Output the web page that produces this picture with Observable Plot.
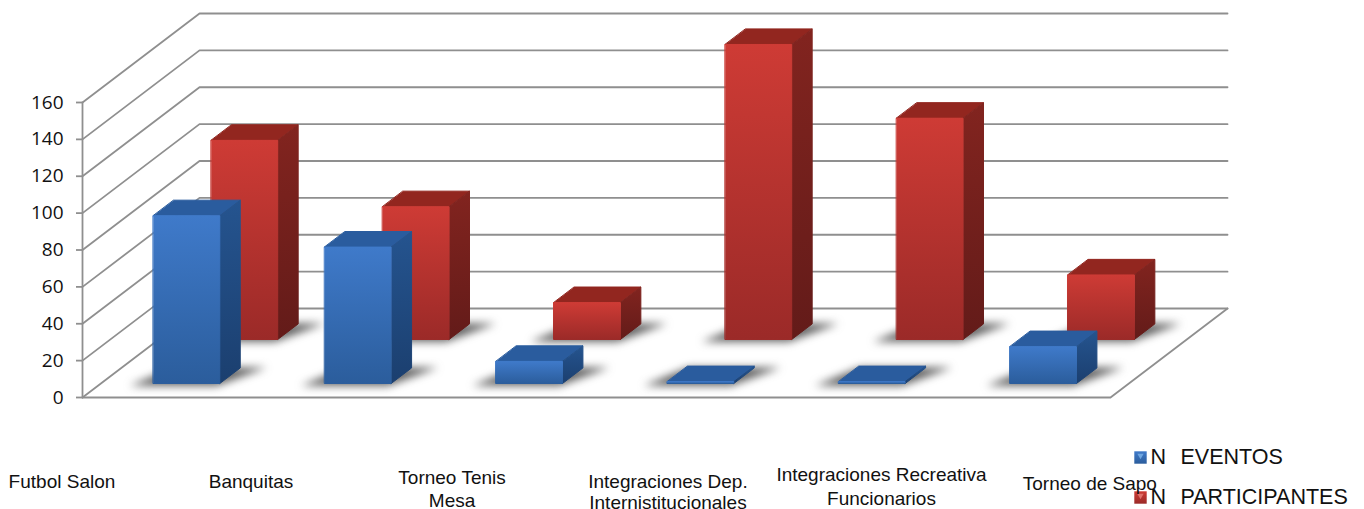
<!DOCTYPE html>
<html>
<head>
<meta charset="utf-8">
<script src="https://cdn.jsdelivr.net/npm/d3@7"></script>
<script src="https://cdn.jsdelivr.net/npm/@observablehq/plot@0.6"></script>
<style>html,body{margin:0;padding:0;background:#fff}svg{display:block}</style>
</head>
<body>
<div id="chart"></div>
<script>
const categories = ["Futbol Salon", "Banquitas", "Torneo Tenis\nMesa", "Integraciones Dep.\nInternistitucionales", "Integraciones Recreativa\nFuncionarios", "Torneo de Sapo"];
const eventos = [91, 74, 12, 1, 1, 20];
const participantes = [108, 72, 20, 160, 120, 35];
const ticks = [0, 20, 40, 60, 80, 100, 120, 140, 160];
const seriesNames = ["EVENTOS", "PARTICIPANTES"];

// layout (oblique projection of the 3-D box, in data units)
const DEPTH_X = 0.683, DEPTH_Y = 48.27, HALF = 0.194, BAR_DEPTH = 0.175;
const BLUE_W = 0.157, RED_W = 0.652;
const labelDx = [-106.2, -88.5, -58.8, -14.2, 28, 65];
const labelDy = [83, 83, 90.5, 94, 87.5, 85];
const labelLH = [1.2, 1.2, 1.2, 1.12, 1.3, 1.2];
const P = (u, w, v, id) => ({x: u + w * DEPTH_X, y: v + w * DEPTH_Y, id});

function faces(values, w0, name) {
  const out = {front: [], side: [], top: [], shadow: []};
  values.forEach((v, i) => {
    const a = i + 0.5 - HALF, b = i + 0.5 + HALF, w1 = w0 + BAR_DEPTH;
    const id = name + i;
    out.front.push(P(a, w0, 0, id), P(b, w0, 0, id), P(b, w0, v, id), P(a, w0, v, id));
    out.side.push(P(b, w0, 0, id), P(b, w1, 0, id), P(b, w1, v, id), P(b, w0, v, id));
    out.top.push(P(a, w0, v, id), P(b, w0, v, id), P(b, w1, v, id), P(a, w1, v, id));
    out.shadow.push(P(a - 0.12, w0 - 0.025, 0, id), P(b, w0 - 0.025, 0, id), P(b + 0.15, w1 + 0.005, 0, id), P(a, w1 + 0.005, 0, id));
  });
  return out;
}
const blue = faces(eventos, BLUE_W, "e");
const red = faces(participantes, RED_W, "p");

const wall = ticks.flatMap(t => [P(0, 0, t, t), P(0, 1, t, t), P(6, 1, t, t)]);
const floorEdge = [P(0, 0, 0, "f"), P(6, 0, 0, "f"), P(6, 1, 0, "f")];
const yAxisLine = [P(0, 0, 0, "a"), P(0, 0, 160, "a")];

const grads = {
  bf: ["#3f7aca", "#2b5d9c"], bs: ["#25548f", "#1b3f6f"],
  rf: ["#ce3b35", "#9b2a28"], rs: ["#82241f", "#631b19"]
};
const defs = () => {
  const d = d3.create("svg:defs");
  for (const [id, [c0, c1]] of Object.entries(grads)) {
    const g = d.append("linearGradient").attr("id", id).attr("x1", 0).attr("x2", 0).attr("y1", 0).attr("y2", 1);
    g.append("stop").attr("offset", "0%").attr("stop-color", c0);
    g.append("stop").attr("offset", "100%").attr("stop-color", c1);
  }
  return d.node();
};

const poly = (data, fill) => Plot.line(data, {
  x: "x", y: "y", z: "id", curve: "linear-closed", fill, stroke: fill,
  strokeWidth: 1, strokeLinejoin: "round"
});
const shadow = data => Plot.line(data, {
  x: "x", y: "y", z: "id", curve: "linear-closed", fill: "#4f4f4f", stroke: "none",
  fillOpacity: 0.9, imageFilter: "blur(4px)"
});
const GRID = {x: "x", y: "y", z: "id", stroke: "#8f8f8f", strokeWidth: 1.8};

const labelMarks = categories.map((c, i) => Plot.text([c], {
  x: () => i + 0.5, y: () => 0, text: d => d, dx: labelDx[i], dy: labelDy[i],
  fontFamily: "Liberation Sans", fontSize: 19, fill: "#111", lineHeight: labelLH[i]
}));

// frameAnchor offsets are measured from the frame's top-left corner
const FX = 82, FY = 102;
const LEGEND = {frameAnchor: "top-left", lineAnchor: "middle", fontFamily: "Liberation Sans", fontSize: 21.5, fill: "#111", textAnchor: "start"};
const swatch = (cy, fill, tip) => [
  Plot.dot([0], {frameAnchor: "top-left", dx: 1140 - FX, dy: cy - FY, symbol: "square", r: 7, fill}),
  Plot.dot([0], {frameAnchor: "top-left", dx: 1140 - FX, dy: cy - 2 - FY, symbol: "triangle2", rotate: 180, r: 3, fill: tip})
];
const legendRow = (name, cy) => [
  Plot.text(["N"], {...LEGEND, text: d => d, dx: 1150 - FX, dy: cy - FY}),
  Plot.text([name], {...LEGEND, text: d => d, dx: 1180 - FX, dy: cy - FY})
];

const chart = Plot.plot({
  width: 1364, height: 509,
  marginLeft: FX, marginRight: 254, marginTop: FY, marginBottom: 112,
  style: {background: "#fff", overflow: "visible"},
  x: {domain: [0, 6], axis: null},
  y: {domain: [0, 160], axis: null},
  marks: [
    defs,
    Plot.line(wall, GRID),
    Plot.line(floorEdge, GRID),
    Plot.line(yAxisLine, GRID),
    Plot.axisY(ticks, {
      anchor: "left", tickSize: 6, tickPadding: 13, stroke: "#8f8f8f", strokeWidth: 1.8,
      fontFamily: "Open Sans", fontSize: 19, fill: "#111", label: null
    }),
    shadow(red.shadow), shadow(blue.shadow),
    poly(red.top, "#92261f"), poly(red.side, "url(#rs)"), poly(red.front, "url(#rf)"),
    poly(blue.top, "#2a5c9e"), poly(blue.side, "url(#bs)"), poly(blue.front, "url(#bf)"),
    ...swatch(457, "url(#bf)", "#6fa6e0"),
    ...swatch(497, "url(#rf)", "#e0706a"),
    ...labelMarks,
    ...legendRow(seriesNames[0], 456.5),
    ...legendRow(seriesNames[1], 497)
  ]
});
document.getElementById("chart").append(chart);
</script>
</body>
</html>
